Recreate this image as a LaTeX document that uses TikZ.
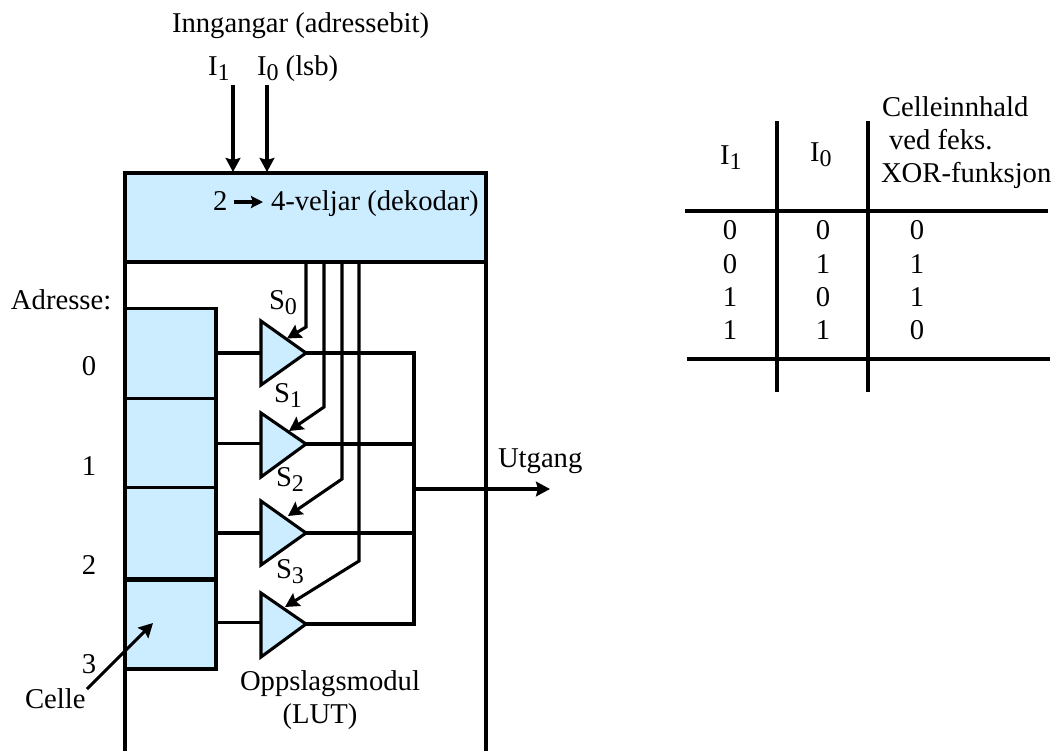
\documentclass[tikz,border=0pt]{standalone}
\usepackage{fontspec}
\setmainfont{Liberation Serif}
\usetikzlibrary{arrows.meta}
\definecolor{cellblue}{HTML}{CCECFF}
\newcommand{\lowsub}[1]{\raisebox{-0.19em}{\fontsize{18pt}{20pt}\selectfont #1}}
\tikzset{
  x=0.75pt,y=-0.75pt,
  wire/.style={line width=2.3pt,line join=miter,line cap=butt},
  arrowwire/.style={wire,-{Stealth[length=10.5pt,width=11pt,inset=1.5pt]},shorten >=0pt},
  smallarrow/.style={wire,-{Stealth[length=9pt,width=9pt,inset=1.5pt]}},
  blockbox/.style={draw,fill=cellblue,line width=2.3pt,inner sep=0pt,outer sep=0pt,minimum width=68.25pt},
  cellbox/.style={blockbox,minimum height=67.5pt},
  driver/.style={draw,fill=cellblue,line width=2.3pt,line join=miter},
  txt/.style={anchor=base west,inner sep=0pt,outer sep=0pt,font=\fontsize{21.5pt}{24pt}\selectfont},
  ctxt/.style={txt,anchor=base}
}
\begin{document}
\begin{tikzpicture}
\useasboundingbox[fill=white] (0,0) rectangle (1056,751);
% decoder and frame
\node[blockbox,minimum width=270.75pt,minimum height=66.75pt] (dec) at (305.5,217.5) {};
\coordinate (frameL) at (125,751);
\coordinate (frameR) at (486,751);
\draw[wire] (dec.south west) -- (frameL);
\draw[wire] (dec.south east) -- (frameR);
% cells
\node[cellbox] (c0) at (170.5,353.5) {};
\node[cellbox] (c1) at (170.5,443.5) {};
\node[cellbox,minimum height=67.9pt] (c2) at (170.5,533.2) {};
\node[cellbox,minimum height=66.75pt] (c3) at (170.5,624.5) {};
% drivers
\foreach \n/\t/\m/\b in {0/321/353/385,1/413/444/477,2/501/533/565,3/593/624/657}{
  \draw[driver] (261,\t) -- (306,\m) -- (261,\b) -- cycle;
  \coordinate (out\n) at (306,\m);
  \coordinate (bus\n) at (414,\m);
}
\coordinate (in0) at (261,353);
\coordinate (in1) at (261,443.5);
\coordinate (in2) at (261,533);
\coordinate (in3) at (261,622.5);
\draw[wire] (c0.east |- in0) -- (in0);
\draw[wire] (c1.east |- in1) -- (in1);
\draw[wire] (c2.east |- in2) -- (in2);
\draw[wire] (c3.east |- in3) -- (in3);
\foreach \n in {0,1,2,3}{\draw[wire] (out\n) -- (bus\n);}
\draw[wire] ([yshift=1.15pt]bus0) -- ([yshift=-1.15pt]bus3);
% output
\coordinate (busOut) at (414,489);
\coordinate (utgangEnd) at (550,489);
\draw[arrowwire] (busOut) -- (utgangEnd);
% select lines
\coordinate (s0a) at (306,262); \coordinate (s0b) at (306,327); \coordinate (s0c) at (287,338.5);
\coordinate (s1a) at (324,262); \coordinate (s1b) at (324,407); \coordinate (s1c) at (289,431);
\coordinate (s2a) at (342,262); \coordinate (s2b) at (342,479); \coordinate (s2c) at (288,516);
\coordinate (s3a) at (359,262); \coordinate (s3b) at (359,561); \coordinate (s3c) at (285,607);
\foreach \n in {0,1,2,3}{\draw[arrowwire] (s\n a) -- (s\n b) -- (s\n c);}
% inputs
\coordinate (i1top) at (233,85); \coordinate (i1end) at (233,172);
\coordinate (i0top) at (267,85); \coordinate (i0end) at (267,172);
\draw[arrowwire] (i1top) -- (i1end);
\draw[arrowwire] (i0top) -- (i0end);
% cell arrow
\coordinate (celleStart) at (87,689); \coordinate (celleEnd) at (153,623);
\draw[arrowwire] (celleStart) -- (celleEnd);
% texts
\node[txt] (tInn) at (172,32) {Inngangar (adressebit)};
\node[txt] (tI1) at (208,75) {I\lowsub{1}};
\node[txt] (tI0) at (257,75) {I\lowsub{0} (lsb)};
\node[txt] (tTwo) at (213,210) {2};
\coordinate (decA) at (234,202); \coordinate (decB) at (263,202);
\draw[smallarrow] (decA) -- (decB);
\node[txt] (tDec) at (271,210) {4-veljar (dekodar)};
\node[txt] (tAdr) at (11,309) {Adresse:};
\node[ctxt] (a0) at (89,375) {0};
\node[ctxt] (a1) at (89,475) {1};
\node[ctxt] (a2) at (89,574) {2};
\node[ctxt] (a3) at (89,673) {3};
\node[txt] (tCelle) at (25,708) {Celle};
\node[txt] (tS0) at (269,309) {S\lowsub{0}};
\node[txt] (tS1) at (274,402) {S\lowsub{1}};
\node[txt] (tS2) at (276,486) {S\lowsub{2}};
\node[txt] (tS3) at (276,578) {S\lowsub{3}};
\node[txt] (tOpp) at (240,690) {Oppslagsmodul};
\node[ctxt] (tLut) at (320,723) {(LUT)};
\node[txt] (tUt) at (498,467) {Utgang};
% table
\coordinate (v1a) at (777,121); \coordinate (v1b) at (777,392);
\coordinate (v2a) at (868,121); \coordinate (v2b) at (868,392);
\coordinate (h1a) at (685,211); \coordinate (h1b) at (1048,211);
\coordinate (h2a) at (687,359); \coordinate (h2b) at (1050,359);
\draw[wire] (v1a) -- (v1b);
\draw[wire] (v2a) -- (v2b);
\draw[wire] (h1a) -- (h1b);
\draw[wire] (h2a) -- (h2b);
\node[txt] (hI1) at (720,164) {I\lowsub{1}};
\node[txt] (hI0) at (810,161) {I\lowsub{0}};
\node[txt] (hC1) at (882,116) {Celleinnhald};
\node[txt] (hC2) at (889,149) {ved feks.};
\node[txt] (hC3) at (881,182) {XOR-funksjon};
\foreach \r/\y/\p/\q/\o in {0/239/0/0/0,1/273/0/1/1,2/306/1/0/1,3/339/1/1/0}{
  \node[ctxt] (ra\r) at (730,\y) {\p};
  \node[ctxt] (rb\r) at (823,\y) {\q};
  \node[ctxt] (rc\r) at (917,\y) {\o};
}
\end{tikzpicture}
\end{document}
